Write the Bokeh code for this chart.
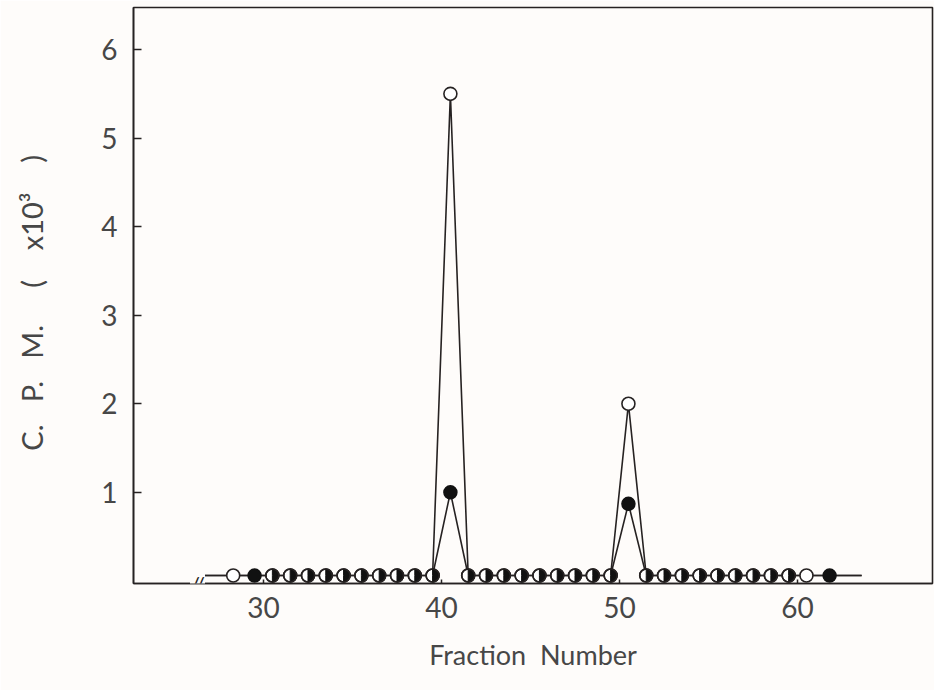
import numpy as np
from bokeh.plotting import figure
from bokeh.models import Range1d, FixedTicker, Label
from bokeh.embed import file_html
from bokeh.resources import INLINE

# ---- data ----
# open circles (series 1)
frac_open = [28.3, 30.5, 31.5, 32.5, 33.5, 34.5, 35.5, 36.5, 37.5, 38.5, 39.5,
             40.5, 41.5, 42.5, 43.5, 44.5, 45.5, 46.5, 47.5, 48.5, 49.5,
             50.5, 51.5, 52.5, 53.5, 54.5, 55.5, 56.5, 57.5, 58.5, 59.5, 60.5]
cpm_open = [0.06, 0.06, 0.06, 0.06, 0.06, 0.06, 0.06, 0.06, 0.06, 0.06, 0.06,
            5.5, 0.06, 0.06, 0.06, 0.06, 0.06, 0.06, 0.06, 0.06, 0.06,
            2.0, 0.06, 0.06, 0.06, 0.06, 0.06, 0.06, 0.06, 0.06, 0.06, 0.06]
# filled circles (series 2)
frac_filled = [29.5, 30.5, 31.5, 32.5, 33.5, 34.5, 35.5, 36.5, 37.5, 38.5, 39.5,
               40.5, 41.5, 42.5, 43.5, 44.5, 45.5, 46.5, 47.5, 48.5, 49.5,
               50.5, 51.5, 52.5, 53.5, 54.5, 55.5, 56.5, 57.5, 58.5, 59.5, 61.8]
cpm_filled = [0.06, 0.06, 0.06, 0.06, 0.06, 0.06, 0.06, 0.06, 0.06, 0.06, 0.06,
              1.0, 0.06, 0.06, 0.06, 0.06, 0.06, 0.06, 0.06, 0.06, 0.06,
              0.87, 0.06, 0.06, 0.06, 0.06, 0.06, 0.06, 0.06, 0.06, 0.06, 0.06]
# extent of the baseline trace
trace_start = 26.7
trace_end = 63.6
baseline = 0.06

x_ticks = [30, 40, 50, 60]
y_ticks = [1, 2, 3, 4, 5, 6]

INK = "#262222"
TXT = "#474747"
BG = "#fefcfa"
FONT = "Lato"
NB = "\u00a0"

p = figure(width=934, height=690,
           x_range=Range1d(22.7, 67.58), y_range=Range1d(-0.03, 6.475),
           output_backend="svg", toolbar_location=None,
           min_border_left=133, min_border_right=2,
           min_border_top=7, min_border_bottom=107)
p.background_fill_color = BG
p.border_fill_color = BG
p.outline_line_color = INK
p.outline_line_width = 1.6
p.grid.visible = False

for ax in (p.xaxis, p.yaxis):
    ax.axis_line_color = INK
    ax.axis_line_width = 1.6
    ax.major_tick_line_color = INK
    ax.major_tick_line_width = 1.5
    ax.major_tick_out = 0
    ax.minor_tick_line_color = None
    ax.major_label_text_font = FONT
    ax.major_label_text_font_size = "28px"
    ax.major_label_text_color = TXT
    ax.axis_label_text_font = FONT
    ax.axis_label_text_font_size = "27px"
    ax.axis_label_text_font_style = "normal"
    ax.axis_label_text_color = TXT

p.xaxis.ticker = FixedTicker(ticks=x_ticks)
p.xaxis.major_tick_in = 4
p.xaxis.major_label_standoff = 13
p.xaxis.axis_label = "Fraction" + NB * 2 + "Number"
p.xaxis.axis_label_standoff = 17

p.yaxis.ticker = FixedTicker(ticks=y_ticks)
p.yaxis.major_tick_in = 8
p.yaxis.major_label_standoff = 16
p.yaxis.axis_label = ("C." + NB * 3 + "P." + NB * 3 + "M." + NB * 5 + "(" + NB * 4
                      + "x10\u00b3" + NB * 4 + ")" + NB * 2)
p.yaxis.axis_label_text_font_size = "29px"
p.yaxis.axis_label_standoff = 49

# connecting lines
open_line_x = [trace_start] + frac_open + [trace_end]
open_line_y = [baseline] + cpm_open + [baseline]
filled_line_x = [trace_start] + frac_filled + [trace_end]
filled_line_y = [baseline] + cpm_filled + [baseline]
p.line(open_line_x, open_line_y, line_color=INK, line_width=1.6)
p.line(filled_line_x, filled_line_y, line_color=INK, line_width=1.6)

# split filled points: coincident with open ones -> half symbols
fo = dict(zip(frac_open, cpm_open))
fx = np.array(frac_filled)
fy = np.array(cpm_filled)
coinc = np.array([(x in fo and abs(fo[x] - y) < 0.05) for x, y in zip(frac_filled, cpm_filled)])

p.scatter(frac_open, cpm_open, marker="circle", size=13, fill_color="white",
          line_color=INK, line_width=1.6)
p.wedge(x=fx[coinc], y=fy[coinc], radius=6.5, radius_units="screen",
        start_angle=-np.pi / 2, end_angle=np.pi / 2,
        fill_color="#111111", line_color="#111111")
p.scatter(fx[coinc], fy[coinc], marker="circle", size=13, fill_color=None,
          line_color=INK, line_width=1.6)
p.scatter(fx[~coinc], fy[~coinc], marker="circle", size=13, fill_color="#111111",
          line_color="#111111", line_width=1.5)

# axis break mark (placed on the canvas so it is not clipped to the frame)
brk = Label(x=197, y=584, x_units="canvas", y_units="canvas", text="//",
            text_font=FONT, text_font_size="22px", text_color=INK,
            text_align="center", text_baseline="middle",
            background_fill_color=BG)
p.add_layout(brk)

open("out.html", "w").write(file_html(p, INLINE))
